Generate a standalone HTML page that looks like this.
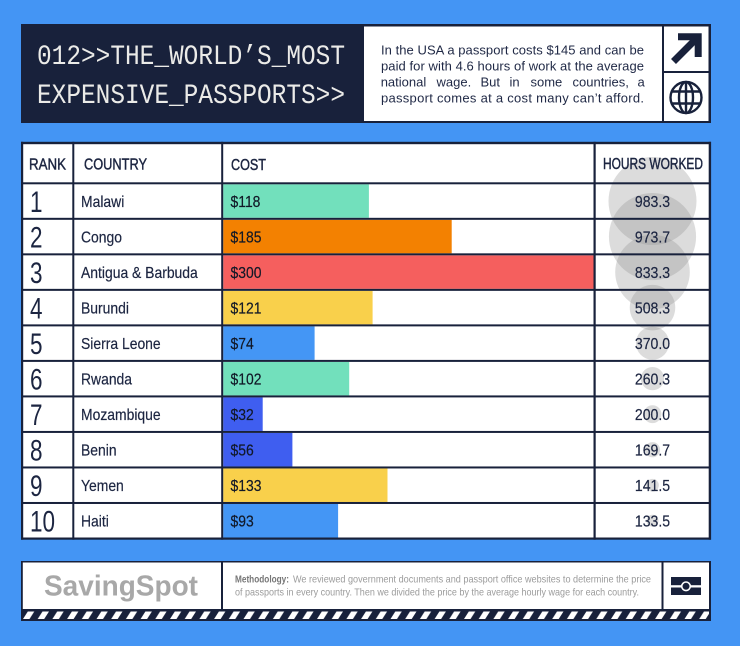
<!DOCTYPE html>
<html><head><meta charset="utf-8"><style>
html,body{margin:0;padding:0;background:#4495f4;}
svg{display:block}
text{font-family:"Liberation Sans",sans-serif;}
</style></head><body>
<svg width="740" height="646" viewBox="0 0 740 646" xmlns="http://www.w3.org/2000/svg">
<defs>
<pattern id="st" patternUnits="userSpaceOnUse" x="23" y="611.5" width="14.7" height="7.5">
<polygon points="0,7.5 4.8,0 11.3,0 6.5,7.5" fill="#ffffff"/>
</pattern>
</defs>
<rect width="740" height="646" fill="#4495f4"/>

<!-- HEADER -->
<rect x="21" y="24" width="690" height="99" fill="#18213b"/>
<rect x="364" y="26.5" width="298" height="94.5" fill="#fff"/>
<rect x="664" y="26.5" width="44.5" height="44.5" fill="#fff"/>
<rect x="664" y="73" width="44.5" height="48" fill="#fff"/>

<text x="37" y="64" style="font-family:'Liberation Mono',monospace" font-size="28" fill="#ebebe8" textLength="308" lengthAdjust="spacingAndGlyphs">012&gt;&gt;THE_WORLD’S_MOST</text>
<text x="37" y="103" style="font-family:'Liberation Mono',monospace" font-size="28" fill="#ebebe8" textLength="308" lengthAdjust="spacingAndGlyphs">EXPENSIVE_PASSPORTS&gt;&gt;</text>

<g font-size="13" fill="#1f2845">
<text x="381" y="54.3" textLength="263" lengthAdjust="spacing">In the USA a passport costs $145 and can be</text>
<text x="381" y="70.3" textLength="263" lengthAdjust="spacing">paid for with 4.6 hours of work at the average</text>
<text y="86.3"><tspan x="380.7">national</tspan><tspan x="436.5">wage.</tspan><tspan x="480.5">But</tspan><tspan x="509.5">in</tspan><tspan x="530.5">some</tspan><tspan x="572.5">countries,</tspan><tspan x="637.5">a</tspan></text>
<text x="381" y="102.3" textLength="263" lengthAdjust="spacing">passport comes at a cost many can’t afford.</text>
</g>

<!-- arrow -->
<polyline points="678,36.8 698.2,36.8 698.2,57" fill="none" stroke="#18213b" stroke-width="7" stroke-linejoin="miter"/>
<line x1="673.5" y1="61.5" x2="695.5" y2="39.5" stroke="#18213b" stroke-width="7"/>
<!-- globe -->
<g fill="none" stroke="#18213b" stroke-width="2.4">
<circle cx="686" cy="97.5" r="15.5"/>
<ellipse cx="686" cy="97.5" rx="7" ry="15.5"/>
<line x1="686" y1="82" x2="686" y2="113"/>
<line x1="672" y1="91.5" x2="700" y2="91.5"/>
<line x1="672" y1="103.5" x2="700" y2="103.5"/>
</g>

<!-- TABLE -->
<rect x="21" y="142" width="690" height="397.5" fill="#fff"/>
<!-- bars -->
<rect x="223.2" y="184.3" width="145.7" height="33.52" fill="#72e0bc"/>
<rect x="223.2" y="219.82" width="228.5" height="33.52" fill="#f38101"/>
<rect x="223.2" y="255.34" width="370.5" height="33.52" fill="#f55f5e"/>
<rect x="223.2" y="290.86" width="149.4" height="33.52" fill="#f9d04b"/>
<rect x="223.2" y="326.38" width="91.4" height="33.52" fill="#4496f5"/>
<rect x="223.2" y="361.9" width="126" height="33.52" fill="#72e0bc"/>
<rect x="223.2" y="397.42" width="39.5" height="33.52" fill="#3f5ef0"/>
<rect x="223.2" y="432.94" width="69.2" height="33.52" fill="#3f5ef0"/>
<rect x="223.2" y="468.46" width="164.3" height="33.52" fill="#f9d04b"/>
<rect x="223.2" y="503.98" width="114.9" height="33.52" fill="#4496f5"/>

<!-- bubbles -->
<g fill="#969696" fill-opacity="0.33">
<circle cx="652.5" cy="201.06" r="44"/>
<circle cx="652.5" cy="236.58" r="43.57"/>
<circle cx="652.5" cy="272.1" r="37.29"/>
<circle cx="652.5" cy="307.62" r="22.75"/>
<circle cx="652.5" cy="343.14" r="16.56"/>
<circle cx="652.5" cy="378.66" r="11.65"/>
<circle cx="652.5" cy="414.18" r="8.95"/>
<circle cx="652.5" cy="449.7" r="7.59"/>
<circle cx="652.5" cy="485.22" r="6.33"/>
<circle cx="652.5" cy="520.74" r="5.97"/>
</g>

<!-- grid lines -->
<g fill="#18213b">
<rect x="21" y="141.8" width="690" height="2.4"/>
<rect x="21" y="537.5" width="690" height="2.2"/>
<rect x="21" y="141.8" width="2.2" height="397.9"/>
<rect x="708.7" y="141.8" width="2.4" height="397.9"/>
<rect x="72.3" y="141.8" width="2" height="397.9"/>
<rect x="221.2" y="141.8" width="2" height="397.9"/>
<rect x="593.5" y="141.8" width="2.2" height="397.9"/>
<rect x="21" y="182.3" width="690" height="2"/>
<rect x="21" y="217.82" width="690" height="2"/>
<rect x="21" y="253.34" width="690" height="2"/>
<rect x="21" y="288.86" width="690" height="2"/>
<rect x="21" y="324.38" width="690" height="2"/>
<rect x="21" y="359.9" width="690" height="2"/>
<rect x="21" y="395.42" width="690" height="2"/>
<rect x="21" y="430.94" width="690" height="2"/>
<rect x="21" y="466.46" width="690" height="2"/>
<rect x="21" y="501.98" width="690" height="2"/>
</g>

<!-- header labels -->
<g font-size="15.5" fill="#1c2541" stroke="#1c2541" stroke-width="0.45">
<text x="29" y="169.5" textLength="37" lengthAdjust="spacingAndGlyphs">RANK</text>
<text x="84" y="169.5" textLength="63" lengthAdjust="spacingAndGlyphs">COUNTRY</text>
<text x="231" y="170" textLength="35" lengthAdjust="spacingAndGlyphs">COST</text>
<text x="603" y="169" textLength="100" lengthAdjust="spacingAndGlyphs">HOURS WORKED</text>
</g>

<!-- rank numbers -->
<g font-size="30" fill="#1c2541">
<text transform="translate(30 212.06) scale(0.75 1)">1</text>
<text transform="translate(30 247.58) scale(0.75 1)">2</text>
<text transform="translate(30 283.1) scale(0.75 1)">3</text>
<text transform="translate(30 318.62) scale(0.75 1)">4</text>
<text transform="translate(30 354.14) scale(0.75 1)">5</text>
<text transform="translate(30 389.66) scale(0.75 1)">6</text>
<text transform="translate(30 425.18) scale(0.75 1)">7</text>
<text transform="translate(30 460.7) scale(0.75 1)">8</text>
<text transform="translate(30 496.22) scale(0.75 1)">9</text>
<text transform="translate(30 531.74) scale(0.75 1)">10</text>
</g>

<!-- countries -->
<g font-size="16" fill="#1c2541" stroke="#1c2541" stroke-width="0.2">
<text transform="translate(81 206.76) scale(0.87 1)">Malawi</text>
<text transform="translate(81 242.28) scale(0.87 1)">Congo</text>
<text transform="translate(81 277.8) scale(0.87 1)">Antigua &amp; Barbuda</text>
<text transform="translate(81 313.32) scale(0.87 1)">Burundi</text>
<text transform="translate(81 348.84) scale(0.87 1)">Sierra Leone</text>
<text transform="translate(81 384.36) scale(0.87 1)">Rwanda</text>
<text transform="translate(81 419.88) scale(0.87 1)">Mozambique</text>
<text transform="translate(81 455.4) scale(0.87 1)">Benin</text>
<text transform="translate(81 490.92) scale(0.87 1)">Yemen</text>
<text transform="translate(81 526.44) scale(0.87 1)">Haiti</text>
</g>

<!-- costs -->
<g font-size="16" fill="#111827" stroke="#111827" stroke-width="0.2">
<text transform="translate(230.5 206.76) scale(0.87 1)">$118</text>
<text transform="translate(230.5 242.28) scale(0.87 1)">$185</text>
<text transform="translate(230.5 277.8) scale(0.87 1)">$300</text>
<text transform="translate(230.5 313.32) scale(0.87 1)">$121</text>
<text transform="translate(230.5 348.84) scale(0.87 1)">$74</text>
<text transform="translate(230.5 384.36) scale(0.87 1)">$102</text>
<text transform="translate(230.5 419.88) scale(0.87 1)">$32</text>
<text transform="translate(230.5 455.4) scale(0.87 1)">$56</text>
<text transform="translate(230.5 490.92) scale(0.87 1)">$133</text>
<text transform="translate(230.5 526.44) scale(0.87 1)">$93</text>
</g>

<!-- hours -->
<g font-size="16" fill="#1c2541" text-anchor="middle" stroke="#1c2541" stroke-width="0.2">
<text transform="translate(652.5 206.76) scale(0.88 1)">983.3</text>
<text transform="translate(652.5 242.28) scale(0.88 1)">973.7</text>
<text transform="translate(652.5 277.8) scale(0.88 1)">833.3</text>
<text transform="translate(652.5 313.32) scale(0.88 1)">508.3</text>
<text transform="translate(652.5 348.84) scale(0.88 1)">370.0</text>
<text transform="translate(652.5 384.36) scale(0.88 1)">260.3</text>
<text transform="translate(652.5 419.88) scale(0.88 1)">200.0</text>
<text transform="translate(652.5 455.4) scale(0.88 1)">169.7</text>
<text transform="translate(652.5 490.92) scale(0.88 1)">141.5</text>
<text transform="translate(652.5 526.44) scale(0.88 1)">133.5</text>
</g>

<!-- FOOTER -->
<rect x="21" y="561" width="690" height="60" fill="#18213b"/>
<rect x="22.8" y="562.5" width="198.2" height="46.5" fill="#fff"/>
<rect x="223" y="562.5" width="438.5" height="46.5" fill="#fff"/>
<rect x="663.5" y="562.5" width="45.5" height="46.5" fill="#fff"/>
<rect x="23" y="611.5" width="686" height="7.5" fill="url(#st)"/>

<text x="44" y="595.5" font-weight="bold" font-size="29" fill="#a8a8a8" textLength="154" lengthAdjust="spacingAndGlyphs">SavingSpot</text>

<g font-size="10.3">
<text x="235" y="582.5" font-weight="bold" fill="#767676" textLength="54" lengthAdjust="spacingAndGlyphs">Methodology:</text>
<text x="293" y="582.5" fill="#9b9b9b" textLength="358" lengthAdjust="spacingAndGlyphs">We reviewed government documents and passport office websites to determine the price</text>
<text x="235" y="595.3" fill="#9b9b9b" textLength="404" lengthAdjust="spacingAndGlyphs">of passports in every country. Then we divided the price by the average hourly wage for each country.</text>
</g>

<!-- footer icon -->
<rect x="671" y="577" width="30" height="18" fill="#18213b"/>
<rect x="671" y="585.2" width="30" height="2.3" fill="#fff"/>
<circle cx="686" cy="586.3" r="4.3" fill="#18213b" stroke="#fff" stroke-width="1.6"/>
</svg>
</body></html>
